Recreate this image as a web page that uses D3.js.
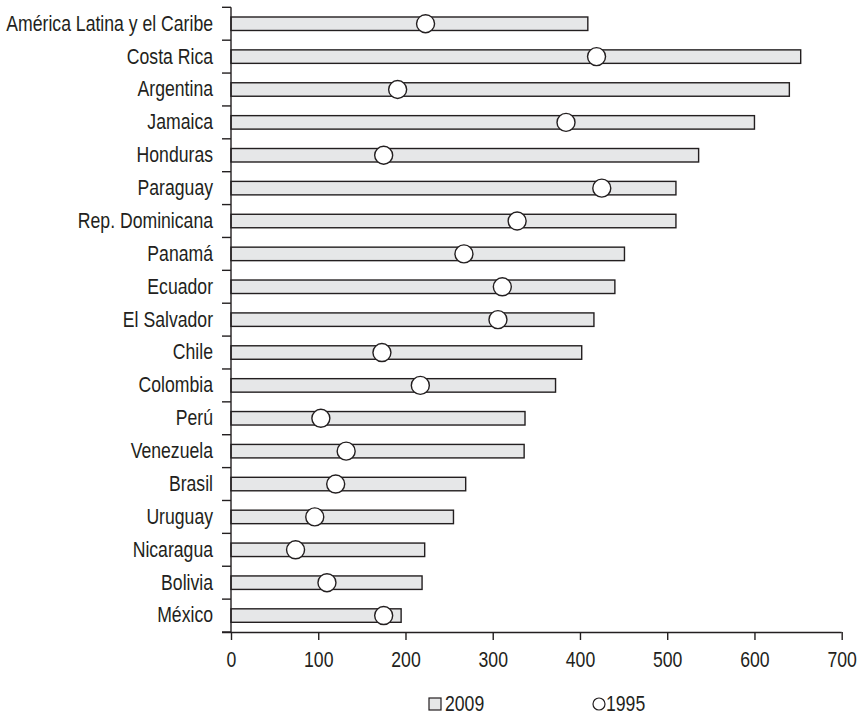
<!DOCTYPE html>
<html>
<head>
<meta charset="utf-8">
<script src="https://cdn.jsdelivr.net/npm/d3@7"></script>
<style>
  html, body { margin: 0; padding: 0; background: #ffffff; }
  svg { display: block; }
  text { font-family: "Liberation Sans", Arial, sans-serif; fill: #231f20; }
</style>
</head>
<body>
<svg id="chart" width="859" height="714"></svg>
<script>
const categories = ["América Latina y el Caribe","Costa Rica","Argentina","Jamaica","Honduras","Paraguay","Rep. Dominicana","Panamá","Ecuador","El Salvador","Chile","Colombia","Perú","Venezuela","Brasil","Uruguay","Nicaragua","Bolivia","México"];
const values2009 = [409, 653, 640, 600, 536, 510, 510, 451, 440, 416, 402, 372, 337, 336, 269, 255, 222, 219, 195];
const values1995 = [223, 419, 191, 384, 175, 425, 328, 267, 311, 306, 173, 217, 103, 132, 120, 96, 74, 110, 175];
const xTicks = [0, 100, 200, 300, 400, 500, 600, 700];
const seriesNames = ["2009", "1995"];

const svg = d3.select("#chart");
const ink = "#231f20";
const fontSize = 21.5;
const sx = 0.82; // horizontal condensing to mimic a narrow typeface

const x = d3.scaleLinear().domain([0, 700]).range([231, 841.7]);
const y = d3.scaleBand().domain(categories).range([7.3, 632]).paddingInner(0).paddingOuter(0);
const barH = y.bandwidth() * 0.41;

// bars (2009)
svg.append("g").selectAll("rect").data(categories).join("rect")
  .attr("x", x(0))
  .attr("y", (d) => y(d) + (y.bandwidth() - barH) / 2)
  .attr("width", (d, i) => x(values2009[i]) - x(0))
  .attr("height", barH)
  .attr("fill", "#e6e7e8")
  .attr("stroke", ink)
  .attr("stroke-width", 1.4);

// circles (1995)
svg.append("g").selectAll("circle").data(categories).join("circle")
  .attr("cx", (d, i) => x(values1995[i]))
  .attr("cy", (d) => y(d) + y.bandwidth() / 2)
  .attr("r", 9)
  .attr("fill", "#ffffff")
  .attr("stroke", ink)
  .attr("stroke-width", 1.4);

// y axis: line + boundary ticks + labels
const yAxisG = svg.append("g");
yAxisG.append("line")
  .attr("x1", x(0)).attr("x2", x(0))
  .attr("y1", y.range()[0]).attr("y2", y.range()[1])
  .attr("stroke", ink).attr("stroke-width", 1.4);
const bounds = categories.map(c => y(c)).concat([y.range()[1]]);
yAxisG.selectAll("line.tk").data(bounds).join("line")
  .attr("class", "tk")
  .attr("x1", x(0) - 9).attr("x2", x(0))
  .attr("y1", d => d).attr("y2", d => d)
  .attr("stroke", ink).attr("stroke-width", 1.4);

const yLab = svg.append("g")
  .attr("transform", `translate(${x(0)},0)`)
  .call(d3.axisLeft(y).tickSize(0).tickPadding(18));
yLab.select(".domain").remove();
yLab.selectAll("text")
  .style("font-size", fontSize + "px").attr("fill", ink)
  .attr("x", -18 / sx)
  .attr("transform", `scale(${sx},1)`);

// x axis
const xAxisG = svg.append("g")
  .attr("transform", `translate(0,${y.range()[1]})`)
  .call(d3.axisBottom(x).tickValues(xTicks).tickFormat(d3.format("d")).tickSize(8).tickPadding(12).tickSizeOuter(0));
xAxisG.select(".domain").attr("stroke", ink).attr("stroke-width", 1.4)
  .attr("d", `M${x(0) - 9},0.5H${x(700)}`);
xAxisG.selectAll(".tick line").attr("stroke", ink).attr("stroke-width", 1.4);
xAxisG.selectAll("text")
  .style("font-size", fontSize + "px").attr("fill", ink)
  .attr("transform", `scale(${sx},1)`);

// legend
const leg = svg.append("g");
leg.append("rect").attr("x", 429).attr("y", 698).attr("width", 12).attr("height", 12)
  .attr("fill", "#e6e7e8").attr("stroke", ink).attr("stroke-width", 1.2);
leg.append("text").attr("transform", `translate(445,711) scale(${sx},1)`)
  .style("font-size", fontSize + "px").text(seriesNames[0]);
leg.append("circle").attr("cx", 599).attr("cy", 704).attr("r", 6)
  .attr("fill", "#fff").attr("stroke", ink).attr("stroke-width", 1.2);
leg.append("text").attr("transform", `translate(606,711) scale(${sx},1)`)
  .style("font-size", fontSize + "px").text(seriesNames[1]);
</script>
</body>
</html>
